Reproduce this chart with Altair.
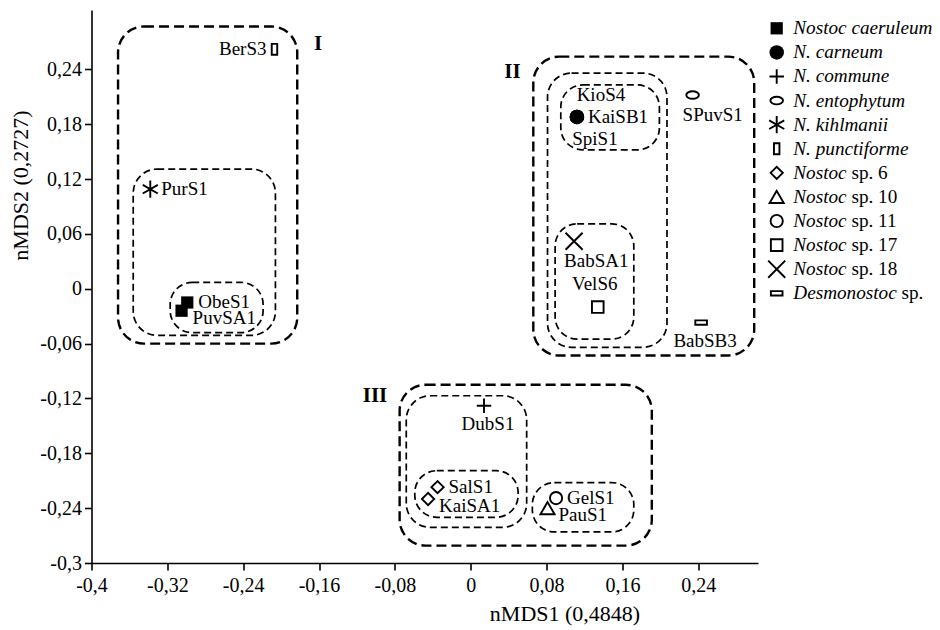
import altair as alt
import pandas as pd

# ---------------- data ----------------
samples = ["BerS3", "PurS1", "ObeS1", "PuvSA1", "KioS4", "KaiSB1", "SpiS1", "SPuvS1",
           "BabSA1", "VelS6", "BabSB3", "DubS1", "SalS1", "KaiSA1", "GelS1", "PauS1"]
nmds1 = [-0.207, -0.338, -0.299, -0.305, 0.112, 0.112, 0.112, 0.234,
         0.109, 0.134, 0.243, 0.014, -0.035, -0.045, 0.090, 0.081]
nmds2 = [0.262, 0.109, -0.015, -0.024, 0.188, 0.188, 0.188, 0.212,
         0.052, -0.020, -0.037, -0.128, -0.217, -0.230, -0.229, -0.240]
taxa = ["N. punctiforme", "N. kihlmanii", "Nostoc caeruleum", "Nostoc caeruleum",
        "N. carneum", "N. carneum", "N. carneum", "N. entophytum",
        "Nostoc sp. 18", "Nostoc sp. 17", "Desmonostoc sp.", "N. commune",
        "Nostoc sp. 6", "Nostoc sp. 6", "Nostoc sp. 11", "Nostoc sp. 10"]
label_side = ["L", "R", "R", "RB", "AR", "R", "BR2", "BR",
              "BR", "A", "B", "B", "R", "RB", "R", "RB"]

species = ["Nostoc caeruleum", "N. carneum", "N. commune", "N. entophytum", "N. kihlmanii",
           "N. punctiforme", "Nostoc sp. 6", "Nostoc sp. 10", "Nostoc sp. 11",
           "Nostoc sp. 17", "Nostoc sp. 18", "Desmonostoc sp."]
species_italic = ["Nostoc caeruleum", "N. carneum", "N. commune", "N. entophytum", "N. kihlmanii",
                  "N. punctiforme", "Nostoc", "Nostoc", "Nostoc", "Nostoc", "Nostoc", "Desmonostoc"]
species_roman = ["", "", "", "", "", "", "sp. 6", "sp. 10", "sp. 11", "sp. 17", "sp. 18", "sp."]
filled_species = ["Nostoc caeruleum", "N. carneum"]

box_x1 = [-0.372, -0.356, -0.317, 0.066, 0.081, 0.095, 0.089, -0.075, -0.068, -0.059, 0.065]
box_x2 = [-0.183, -0.206, -0.219, 0.299, 0.207, 0.199, 0.172, 0.191, 0.059, 0.050, 0.172]
box_y1 = [-0.060, -0.051, -0.048, -0.073, -0.064, 0.152, -0.055, -0.281, -0.261, -0.250, -0.266]
box_y2 = [0.287, 0.131, 0.007, 0.254, 0.236, 0.223, 0.071, -0.105, -0.117, -0.199, -0.212]
box_level = ["outer", "inner", "ellipse", "outer", "inner", "ellipse", "ellipse",
             "outer", "inner", "ellipse", "ellipse"]

cluster_names = ["I", "II", "III"]
cluster_x = [-0.161, 0.044, -0.101]
cluster_y = [0.268, 0.237, -0.117]

x_ticks = [-0.4, -0.32, -0.24, -0.16, -0.08, 0, 0.08, 0.16, 0.24]
y_ticks = [-0.3, -0.24, -0.18, -0.12, -0.06, 0, 0.06, 0.12, 0.18, 0.24]

# ---------------- styles ----------------
FONT = "'Liberation Serif', 'Times New Roman', 'DejaVu Serif', serif"
SHAPES = {
    "Nostoc caeruleum": "square",
    "N. carneum": "circle",
    "N. commune": "M-1,0L1,0M0,-1L0,1",
    "N. entophytum": "M-1,0A1,0.6,0,1,0,1,0A1,0.6,0,1,0,-1,0Z",
    "N. kihlmanii": "M0,-1L0,1M-0.87,-0.5L0.87,0.5M-0.87,0.5L0.87,-0.5",
    "N. punctiforme": "M-0.5,-1L0.5,-1L0.5,1L-0.5,1Z",
    "Nostoc sp. 6": "diamond",
    "Nostoc sp. 10": "triangle-up",
    "Nostoc sp. 11": "circle",
    "Nostoc sp. 17": "square",
    "Nostoc sp. 18": "M-1,-1L1,1M-1,1L1,-1",
    "Desmonostoc sp.": "M-1,-0.38L1,-0.38L1,0.38L-1,0.38Z",
}
SIZES = {
    "Nostoc caeruleum": 150, "N. carneum": 210, "N. commune": 210, "N. entophytum": 160,
    "N. kihlmanii": 300, "N. punctiforme": 120, "Nostoc sp. 6": 150, "Nostoc sp. 10": 200,
    "Nostoc sp. 11": 150, "Nostoc sp. 17": 135, "Nostoc sp. 18": 290, "Desmonostoc sp.": 135,
}
PLACE = {
    "L": ("right", -8, 0),
    "R": ("left", 11, 0),
    "RB": ("left", 11, 7),
    "B": ("center", 4, 18),
    "BR": ("left", -10, 20),
    "A": ("center", -3, -23),
    "AR": ("center", 24, -22),
    "BR2": ("center", 18, 22),
}
BOX_STYLE = {
    "outer": dict(strokeWidth=2.4, strokeDash=[10, 5], cornerRadius=26),
    "inner": dict(strokeWidth=1.7, strokeDash=[7, 4], cornerRadius=24),
    "ellipse": dict(strokeWidth=1.7, strokeDash=[7, 4], cornerRadius=22),
}
# Times-Italic advance widths (per 1000 em) for legend prefix measuring
TI = {'N': 667, 'o': 500, 's': 389, 't': 278, 'c': 444, 'D': 722, 'e': 444,
      'm': 722, 'n': 500, ' ': 250}
LEG_FS = 19.2

pts = pd.DataFrame({"sample": samples, "nmds1": nmds1, "nmds2": nmds2,
                    "taxon": taxa, "side": label_side})
pts["msize"] = pts["taxon"].map(SIZES)
boxes = pd.DataFrame({"x1": box_x1, "x2": box_x2, "y1": box_y1, "y2": box_y2, "level": box_level})
clus = pd.DataFrame({"name": cluster_names, "cx": cluster_x, "cy": cluster_y})
leg = pd.DataFrame({"species": species, "ital": species_italic, "rom": species_roman})
leg["msize"] = leg["species"].map(SIZES)

label_expr = "replace(toString(datum.value), '.', ',')"
x_axis = alt.Axis(values=x_ticks, labelExpr=label_expr, title="nMDS1 (0,4848)",
                  titleX=473, titleY=50, titleAlign="center", titleBaseline="middle",
                  labelPadding=5)
y_axis = alt.Axis(values=y_ticks, labelExpr=label_expr, title="nMDS2 (0,2727)",
                  titleX=-71.5, titleY=175, titleAngle=270, titleAlign="center",
                  titleBaseline="middle", labelPadding=3)
xs = alt.Scale(domain=[-0.4, 0.303], nice=False, zero=False)
ys = alt.Scale(domain=[-0.3, 0.305], nice=False, zero=False)
shape_enc = alt.Shape("taxon:N", scale=alt.Scale(domain=species, range=[SHAPES[s] for s in species]),
                      legend=None)

layers = []
for lvl, st in BOX_STYLE.items():
    layers.append(
        alt.Chart(boxes).transform_filter(alt.datum.level == lvl)
        .mark_rect(fill="transparent", stroke="black", **st)
        .encode(x=alt.X("x1:Q", scale=xs, axis=x_axis), x2="x2:Q",
                y=alt.Y("y1:Q", scale=ys, axis=y_axis), y2="y2:Q")
    )

for filled in (True, False):
    pred = alt.FieldOneOfPredicate(field="taxon", oneOf=filled_species)
    base = alt.Chart(pts)
    base = base.transform_filter(pred) if filled else base.transform_filter(~alt.Predicate(pred))
    layers.append(
        base.mark_point(filled=filled, strokeWidth=1.9, opacity=1, color="black")
        .encode(x=alt.X("nmds1:Q", scale=xs, axis=x_axis),
                y=alt.Y("nmds2:Q", scale=ys, axis=y_axis),
                shape=shape_enc, size=alt.Size("msize:Q", scale=None))
    )

for side, (align, dx, dy) in PLACE.items():
    layers.append(
        alt.Chart(pts).transform_filter(alt.datum.side == side)
        .mark_text(font=FONT, fontSize=19, align=align, baseline="middle", dx=dx, dy=dy, color="black")
        .encode(x=alt.X("nmds1:Q", scale=xs, axis=x_axis),
                y=alt.Y("nmds2:Q", scale=ys, axis=y_axis), text="sample:N")
    )

layers.append(
    alt.Chart(clus).mark_text(font=FONT, fontSize=21, fontWeight="bold", color="black",
                              align="center", baseline="middle")
    .encode(x=alt.X("cx:Q", scale=xs, axis=x_axis), y=alt.Y("cy:Q", scale=ys, axis=y_axis),
            text="name:N")
)

main = alt.layer(*layers)

# ---------------- legend (manual, mixed italic / roman) ----------------
ly = alt.Y("species:N", scale=alt.Scale(type="point", domain=species, range=[18.3, 283.3], padding=0),
           axis=None)
leg_shape = alt.Shape("species:N", scale=alt.Scale(domain=species, range=[SHAPES[s] for s in species]),
                      legend=None)
SYM_X = 685.2
TXT_X = 701.8
leg_layers = []
for filled in (True, False):
    pred = alt.FieldOneOfPredicate(field="species", oneOf=filled_species)
    base = alt.Chart(leg)
    base = base.transform_filter(pred) if filled else base.transform_filter(~alt.Predicate(pred))
    leg_layers.append(
        base.mark_point(filled=filled, strokeWidth=1.9, opacity=1, color="black")
        .encode(x=alt.value(SYM_X), y=ly, shape=leg_shape,
                size=alt.Size("msize:Q", scale=None))
    )
leg_layers.append(
    alt.Chart(leg).mark_text(font=FONT, fontSize=LEG_FS, fontStyle="italic", align="left",
                             baseline="middle", color="black")
    .encode(x=alt.value(TXT_X), y=ly, text="ital:N")
)
for prefix in sorted(set(i for i, r in zip(species_italic, species_roman) if r)):
    w = sum(TI.get(ch, 500) for ch in prefix + " ") * LEG_FS / 1000.0
    leg_layers.append(
        alt.Chart(leg).transform_filter((alt.datum.ital == prefix) & (alt.datum.rom != ""))
        .mark_text(font=FONT, fontSize=LEG_FS, align="left", baseline="middle", color="black", dx=w)
        .encode(x=alt.value(TXT_X), y=ly, text="rom:N")
    )
legend = alt.layer(*leg_layers)

chart = (
    alt.layer(main, legend)
    .resolve_scale(y="independent")
    .properties(width=666.5, height=553,
                autosize=alt.AutoSizeParams(type="none"),
                padding={"left": 83.5, "top": 2, "right": 174, "bottom": 63})
    .configure_view(stroke=None)
    .configure_axis(domainColor="black", tickColor="black", labelColor="black", titleColor="black",
                    domainWidth=1.6, tickWidth=1.6, tickSize=7, labelFont=FONT, labelFontSize=20,
                    titleFont=FONT, titleFontSize=22, titleFontWeight="normal", grid=False,
                    labelFlush=False, labelOverlap=False)
)

chart.save("out.html", embed_options={"renderer": "svg", "actions": False})
